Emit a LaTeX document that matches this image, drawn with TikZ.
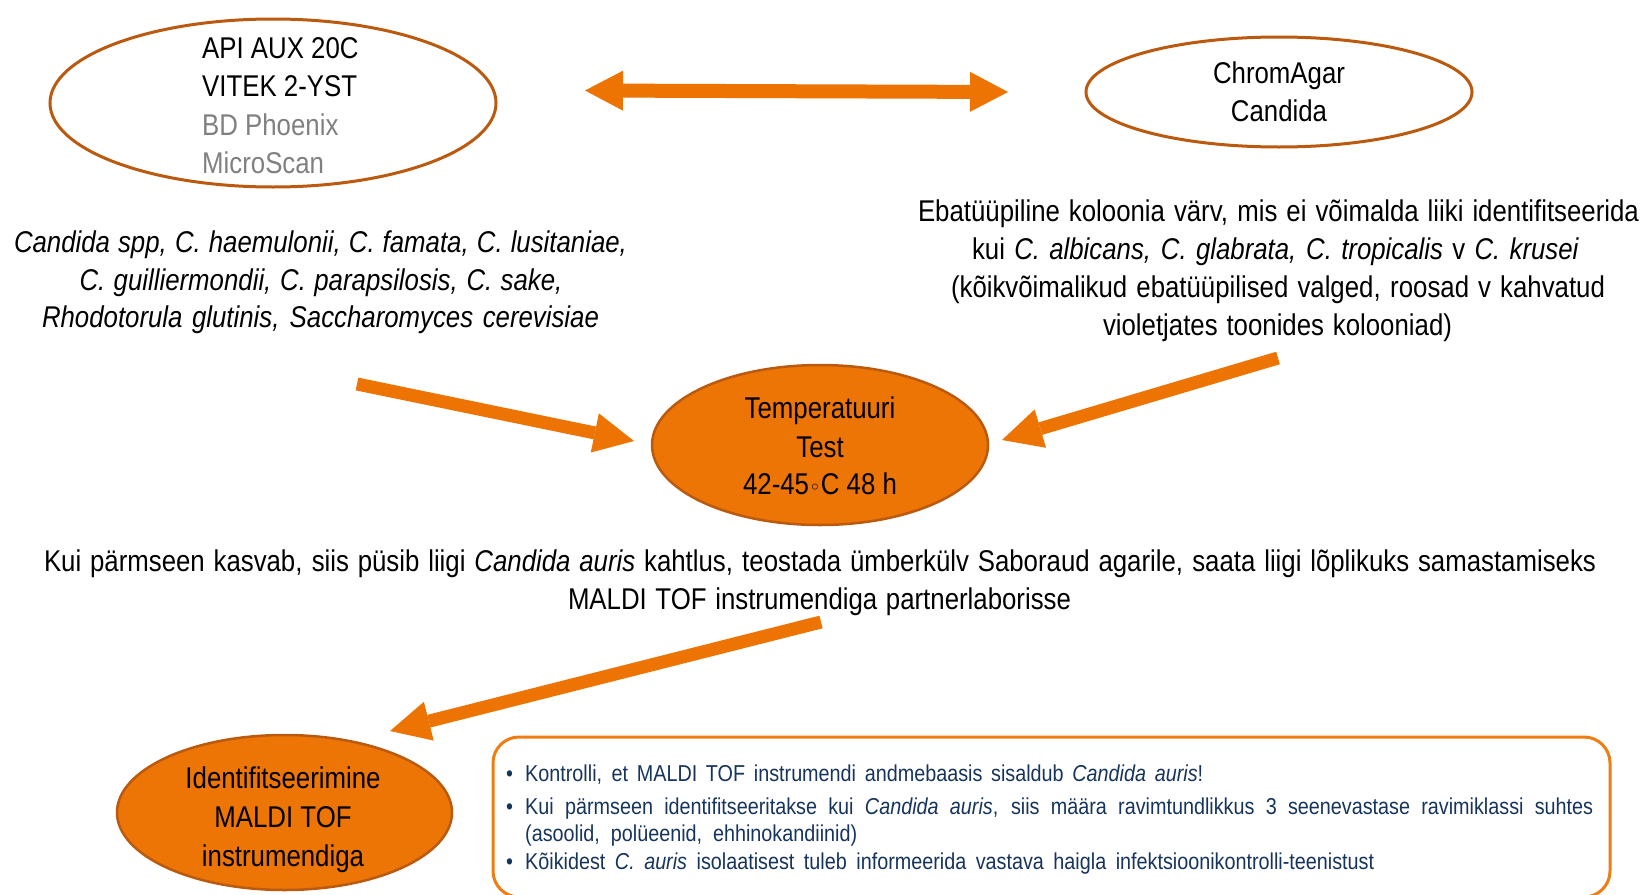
\documentclass[tikz,border=0pt]{standalone}
\usepackage{fontspec}
\setmainfont{Liberation Sans}[FakeStretch=0.86]
\newfontfamily\dejavu{DejaVu Sans}
\usetikzlibrary{shapes.geometric,arrows.meta}
\definecolor{arrowor}{RGB}{237,115,3}
\definecolor{ellfill}{RGB}{236,117,5}
\definecolor{ellline}{RGB}{187,90,14}
\definecolor{boxline}{RGB}{238,125,20}
\definecolor{navy}{RGB}{22,52,92}
\definecolor{graytxt}{RGB}{128,128,128}
\begin{document}
\begin{tikzpicture}[x=1pt,y=-1pt,
  txt/.style={inner sep=0pt, font=\fontsize{30}{36}\selectfont, anchor=base},
  txtw/.style={txt, anchor=base west},
  boxtxt/.style={inner sep=0pt, font=\fontsize{23}{27}\selectfont, text=navy, anchor=base west},
  outell/.style={ellipse, draw=ellline, line width=3pt, inner sep=0pt},
  fillell/.style={ellipse, draw=ellline, fill=ellfill, line width=2.5pt, inner sep=0pt},
  bigarrow/.style={draw=arrowor, line width=13pt, line cap=butt,
     -{Triangle[length=40pt,width=40pt,line width=0pt]}},
  dblarrow/.style={draw=arrowor, line width=14pt, line cap=butt,
     {Triangle[length=38pt,width=40pt,line width=0pt]}-{Triangle[length=38pt,width=40pt,line width=0pt]}},
]
\useasboundingbox (0,0) rectangle (1645,894);

% ---------- top left ellipse
\node[outell, minimum width=446pt, minimum height=168pt] (ell1) at (273,103) {};
\node[txtw] (a1) at (202,58) {API AUX 20C};
\node[txtw] (a2) at (202,96.5) {VITEK 2-YST};
\node[txtw, text=graytxt] (a3) at (202,135) {BD Phoenix};
\node[txtw, text=graytxt] (a4) at (202,173) {MicroScan};

% ---------- top right ellipse
\node[outell, minimum width=386pt, minimum height=110pt] (ell2) at (1279,92) {};
\node[txt] (c1) at (1279,83) {ChromAgar};
\node[txt] (c2) at (1279,121) {Candida};

% ---------- double arrow
\coordinate (d1) at (585,90.5);
\coordinate (d2) at (1008,92);
\draw[dblarrow] (d1) -- (d2);

% ---------- left italic text
\node[txt] (i1) at (320.5,252) {\makebox[613pt][s]{\itshape Candida spp, C. haemulonii, C. famata, C. lusitaniae,}};
\node[txt] (i2) at (321,290) {\makebox[483pt][s]{\itshape C. guilliermondii, C. parapsilosis, C. sake,}};
\node[txt] (i3) at (320.5,327) {\makebox[557pt][s]{\itshape Rhodotorula glutinis, Saccharomyces cerevisiae}};

% ---------- right text
\node[txt] (r1) at (1278.5,221) {\makebox[721pt][s]{Ebatüüpiline koloonia värv, mis ei võimalda liiki identifitseerida}};
\node[txt] (r2) at (1275.5,259.5) {\makebox[607pt][s]{kui \textit{C. albicans, C. glabrata, C. tropicalis} v \textit{C. krusei}}};
\node[txt] (r3) at (1278,297) {\makebox[654pt][s]{(kõikvõimalikud ebatüüpilised valged, roosad v kahvatud}};
\node[txt] (r4) at (1277.5,335) {\makebox[349pt][s]{violetjates toonides kolooniad)}};

% ---------- temperature ellipse
\node[fillell, minimum width=336pt, minimum height=160pt] (ell3) at (820,445) {};
\node[txt] (t1) at (820,418) {Temperatuuri};
\node[txt] (t2) at (820,457) {Test};
\node[txt] (t3) at (820,494.5) {42-45{\dejavu\fontsize{20}{20}\selectfont ◦}C 48 h};

% ---------- arrows into temperature ellipse
\coordinate (s1) at (357,384);
\coordinate (e1) at (634,441);
\draw[bigarrow] (s1) -- (e1);
\coordinate (s2) at (1278,358);
\coordinate (e2) at (1002,440);
\draw[bigarrow] (s2) -- (e2);

% ---------- middle text
\node[txt] (m1) at (820,571) {\makebox[1552pt][s]{Kui pärmseen kasvab, siis püsib liigi \textit{Candida auris} kahtlus, teostada ümberkülv Saboraud agarile, saata liigi lõplikuks samastamiseks}};
\node[txt] (m2) at (819.5,609) {\makebox[503pt][s]{MALDI TOF instrumendiga partnerlaborisse}};

% ---------- arrow to identification
\coordinate (s3) at (821,622);
\coordinate (e3) at (390,731);
\draw[bigarrow] (s3) -- (e3);

% ---------- identification ellipse
\node[fillell, minimum width=335pt, minimum height=155pt] (ell4) at (284.5,812.5) {};
\node[txt] (n1) at (283,788) {Identifitseerimine};
\node[txt] (n2) at (283,827) {MALDI TOF};
\node[txt] (n3) at (283,866) {instrumendiga};

% ---------- info box
\begin{scope}
\clip (0,0) rectangle (1645,894);
\node[draw=boxline, line width=3pt, rounded corners=26pt, minimum width=1117pt, minimum height=160pt, inner sep=0pt] (box) at (1051.5,817) {};
\end{scope}
\node[boxtxt] (b1d) at (506,781) {•};
\node[boxtxt] (b1) at (525,781) {\makebox[678pt][s]{Kontrolli, et MALDI TOF instrumendi andmebaasis sisaldub \textit{Candida auris}!}};
\node[boxtxt] (b2d) at (506,814) {•};
\node[boxtxt] (b2) at (525,814) {\makebox[1068pt][s]{Kui pärmseen identifitseeritakse kui \textit{Candida auris}, siis määra ravimtundlikkus 3 seenevastase ravimiklassi suhtes}};
\node[boxtxt] (b2b) at (525,841) {\makebox[332pt][s]{(asoolid, polüeenid, ehhinokandiinid)}};
\node[boxtxt] (b3d) at (506,869) {•};
\node[boxtxt] (b3) at (525,869) {\makebox[849pt][s]{Kõikidest \textit{C. auris} isolaatisest tuleb informeerida vastava haigla infektsioonikontrolli-teenistust}};
\end{tikzpicture}
\end{document}
